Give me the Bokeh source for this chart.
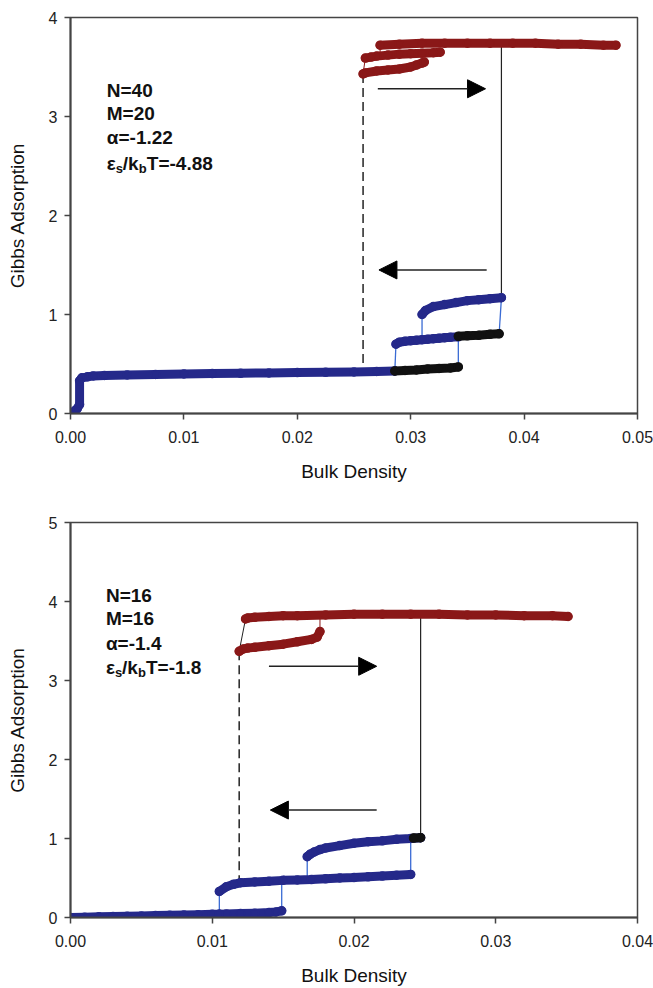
from bokeh.plotting import figure
from bokeh.layouts import column
from bokeh.models import Arrow, NormalHead, Label, FixedTicker, PrintfTickFormatter, Range1d
from bokeh.embed import file_html
from bokeh.resources import INLINE

# ---------------- data: top panel (N=40, M=20) ----------------
top_xticks = [0.0, 0.01, 0.02, 0.03, 0.04, 0.05]
top_yticks = [0, 1, 2, 3, 4]

t_blue_low_x = [0.0, 0.0002, 0.0004, 0.0006, 0.0008, 0.0008, 0.001, 0.0015, 0.002, 0.003, 0.005,
                0.0075, 0.01, 0.0125, 0.015, 0.0175, 0.02, 0.0225, 0.025, 0.027, 0.0286]
t_blue_low_y = [0.0, 0.01, 0.03, 0.05, 0.09, 0.33, 0.36, 0.37, 0.38, 0.385, 0.39,
                0.395, 0.40, 0.403, 0.406, 0.41, 0.413, 0.416, 0.42, 0.425, 0.43]
t_black_low_x = [0.0286, 0.0295, 0.0305, 0.0315, 0.0325, 0.0335, 0.0342]
t_black_low_y = [0.43, 0.435, 0.44, 0.45, 0.455, 0.46, 0.47]
t_blue_mid_x = [0.0287, 0.029, 0.0295, 0.030, 0.0305, 0.031, 0.0315, 0.032, 0.0325, 0.033, 0.0335, 0.0342]
t_blue_mid_y = [0.70, 0.72, 0.73, 0.735, 0.74, 0.745, 0.75, 0.755, 0.76, 0.765, 0.77, 0.775]
t_black_mid_x = [0.0342, 0.035, 0.036, 0.037, 0.0378]
t_black_mid_y = [0.78, 0.785, 0.79, 0.80, 0.805]
t_blue_up_x = [0.0310, 0.0313, 0.032, 0.033, 0.034, 0.035, 0.036, 0.037, 0.038]
t_blue_up_y = [1.00, 1.04, 1.08, 1.10, 1.12, 1.14, 1.15, 1.16, 1.17]
t_red_top_x = [0.0273, 0.029, 0.031, 0.033, 0.035, 0.037, 0.039, 0.041, 0.043, 0.045, 0.047, 0.0481]
t_red_top_y = [3.72, 3.73, 3.74, 3.74, 3.74, 3.74, 3.74, 3.74, 3.73, 3.73, 3.72, 3.72]
t_red_mid_x = [0.0260, 0.0265, 0.027, 0.028, 0.029, 0.030, 0.031, 0.032, 0.0326]
t_red_mid_y = [3.59, 3.60, 3.61, 3.62, 3.63, 3.635, 3.64, 3.645, 3.65]
t_red_low_x = [0.0258, 0.026, 0.027, 0.028, 0.029, 0.030, 0.0305, 0.031, 0.0312]
t_red_low_y = [3.43, 3.44, 3.46, 3.47, 3.48, 3.50, 3.52, 3.54, 3.55]
t_params = ["N=40", "M=20", "\u03b1=-1.22"]
t_eps_value = "T=-4.88"

# ---------------- data: bottom panel (N=16, M=16) ----------------
bot_xticks = [0.0, 0.01, 0.02, 0.03, 0.04]
bot_yticks = [0, 1, 2, 3, 4, 5]

b_blue_low_x = [0.0, 0.001, 0.002, 0.003, 0.004, 0.005, 0.006, 0.007, 0.008, 0.009, 0.010, 0.0105]
b_blue_low_y = [0.0, 0.004, 0.008, 0.012, 0.016, 0.02, 0.024, 0.028, 0.032, 0.036, 0.04, 0.042]
b_blue_low2_x = [0.0105, 0.011, 0.012, 0.013, 0.014, 0.0145, 0.0149]
b_blue_low2_y = [0.042, 0.045, 0.05, 0.055, 0.062, 0.07, 0.085]
b_blue_mid_x = [0.0105, 0.011, 0.0115, 0.012, 0.013, 0.014, 0.015, 0.016, 0.017, 0.018, 0.019,
                0.020, 0.021, 0.022, 0.023, 0.024]
b_blue_mid_y = [0.33, 0.39, 0.42, 0.44, 0.45, 0.46, 0.47, 0.475, 0.48, 0.49, 0.50,
                0.505, 0.515, 0.525, 0.535, 0.545]
b_blue_up_x = [0.0167, 0.0169, 0.0172, 0.0176, 0.018, 0.019, 0.020, 0.021, 0.022, 0.023, 0.024, 0.0247]
b_blue_up_y = [0.77, 0.80, 0.83, 0.86, 0.88, 0.91, 0.94, 0.96, 0.97, 0.99, 1.00, 1.01]
b_black_up_x = [0.0242, 0.0247]
b_black_up_y = [1.005, 1.01]
b_red_top_x = [0.01235, 0.0125, 0.013, 0.014, 0.015, 0.016, 0.018, 0.020, 0.022, 0.024, 0.026,
               0.028, 0.030, 0.032, 0.034, 0.0351]
b_red_top_y = [3.78, 3.79, 3.80, 3.81, 3.82, 3.82, 3.83, 3.84, 3.84, 3.84, 3.84,
               3.83, 3.83, 3.82, 3.82, 3.81]
b_red_low_x = [0.0119, 0.0122, 0.0125, 0.013, 0.014, 0.015, 0.016, 0.017, 0.0174, 0.0176]
b_red_low_y = [3.37, 3.40, 3.41, 3.42, 3.44, 3.46, 3.49, 3.52, 3.55, 3.62]
b_params = ["N=16", "M=16", "\u03b1=-1.4"]
b_eps_value = "T=-1.8"

x_title = "Bulk Density"
y_title = "Gibbs Adsorption"

# ---------------- styles ----------------
BLUE = "#25298a"
BLUE_LINE = "#3a6bd4"
RED = "#8a1818"
BLACK = "#111111"
FONT = "Liberation Sans"


def make_fig(height, xr, yr, xticks, yticks, top_border, bottom_border):
    p = figure(width=653, height=height, x_range=Range1d(*xr), y_range=Range1d(*yr),
               output_backend="svg", toolbar_location=None,
               min_border_left=70, min_border_right=16,
               min_border_top=top_border, min_border_bottom=bottom_border,
               x_axis_label=x_title, y_axis_label=y_title)
    p.xaxis.ticker = FixedTicker(ticks=xticks)
    p.yaxis.ticker = FixedTicker(ticks=yticks)
    p.xaxis.formatter = PrintfTickFormatter(format="%.2f")
    p.yaxis.formatter = PrintfTickFormatter(format="%d")
    for ax in (p.xaxis[0], p.yaxis[0]):
        ax.axis_line_color = "#444444"
        ax.axis_line_width = 2
        ax.major_tick_line_color = "#444444"
        ax.major_tick_line_width = 1.5
        ax.major_tick_in = 0
        ax.major_tick_out = 6
        ax.minor_tick_line_color = None
        ax.major_label_text_font = FONT
        ax.major_label_text_font_size = "16px"
        ax.major_label_text_color = "#222222"
        ax.axis_label_text_font = FONT
        ax.axis_label_text_font_size = "19px"
        ax.axis_label_text_font_style = "normal"
        ax.axis_label_text_color = "#111111"
    p.xaxis.major_label_standoff = 11
    p.yaxis.major_label_standoff = 7
    p.xaxis.axis_label_standoff = 15
    p.yaxis.axis_label_standoff = 18
    p.grid.visible = False
    p.outline_line_color = "#444444"
    p.outline_line_width = 1.5
    p.background_fill_color = "white"
    p.border_fill_color = "white"
    return p


def band(p, xs, ys, color):
    p.line(xs, ys, line_color=color, line_width=9, line_cap="round", line_join="round")
    p.scatter(xs, ys, marker="circle", size=8, fill_color=None, line_color=color, line_width=1.5)


def link(p, x0, y0, x1, y1, color, width=1.3, dash="solid"):
    p.line([x0, x1], [y0, y1], line_color=color, line_width=width, line_dash=dash)


def arrow(p, xs, xe, y):
    p.add_layout(Arrow(end=NormalHead(size=18, fill_color="black", line_color="black"),
                       x_start=xs, y_start=y, x_end=xe, y_end=y,
                       line_color="#222222", line_width=1.5))


def params(p, x, ys, lines, eps_value):
    common = dict(text_font=FONT, text_font_style="bold", text_color="#111111",
                  text_baseline="middle")
    for yy, t in zip(ys[:3], lines):
        p.add_layout(Label(x=x, y=yy, text=t, text_font_size="19px", **common))
    y4 = ys[3]
    p.add_layout(Label(x=x, y=y4, text="\u03b5", text_font_size="19px", **common))
    p.add_layout(Label(x=x, y=y4, x_offset=9, y_offset=-5, text="s", text_font_size="13px", **common))
    p.add_layout(Label(x=x, y=y4, x_offset=16, text="/k", text_font_size="19px", **common))
    p.add_layout(Label(x=x, y=y4, x_offset=32, y_offset=-5, text="b", text_font_size="13px", **common))
    p.add_layout(Label(x=x, y=y4, x_offset=40, text=eps_value, text_font_size="19px", **common))


# ---------------- top panel ----------------
p1 = make_fig(494, (0, 0.05), (0, 4), top_xticks, top_yticks, 17, 81)
link(p1, t_red_low_x[0], t_red_low_y[0], t_red_low_x[0], t_blue_low_y[-2], "#222222", 1.5, "9 5")
link(p1, t_blue_up_x[-1], t_blue_up_y[-1], t_blue_up_x[-1], t_red_top_y[6], "#222222", 1.2)
link(p1, t_blue_low_x[-1], t_blue_low_y[-1], t_blue_mid_x[0], t_blue_mid_y[0], BLUE_LINE)
link(p1, t_black_low_x[-1], t_black_low_y[-1], t_black_mid_x[0], t_black_mid_y[0], BLUE_LINE)
link(p1, t_blue_mid_x[5], t_blue_mid_y[5], t_blue_up_x[0], t_blue_up_y[0], BLUE_LINE)
link(p1, t_black_mid_x[-1], t_black_mid_y[-1], t_blue_up_x[-1], t_blue_up_y[-1], BLUE_LINE)
link(p1, t_red_low_x[0], t_red_low_y[0], t_red_mid_x[0], t_red_mid_y[0], RED, 1.0)
link(p1, t_red_top_x[0], t_red_mid_y[2], t_red_top_x[0], t_red_top_y[0], RED, 1.0)
band(p1, t_blue_low_x, t_blue_low_y, BLUE)
band(p1, t_black_low_x, t_black_low_y, BLACK)
band(p1, t_blue_mid_x, t_blue_mid_y, BLUE)
band(p1, t_black_mid_x, t_black_mid_y, BLACK)
band(p1, t_blue_up_x, t_blue_up_y, BLUE)
band(p1, t_red_low_x, t_red_low_y, RED)
band(p1, t_red_mid_x, t_red_mid_y, RED)
band(p1, t_red_top_x, t_red_top_y, RED)
arrow(p1, 0.0271, 0.0366, 3.28)
arrow(p1, 0.0367, 0.0272, 1.45)
params(p1, 0.0032, [3.26, 3.03, 2.79, 2.53], t_params, t_eps_value)

# ---------------- bottom panel ----------------
p2 = make_fig(494, (0, 0.04), (0, 5), bot_xticks, bot_yticks, 28, 70)
link(p2, b_red_low_x[0], b_red_low_y[0], b_red_low_x[0], b_blue_mid_y[4], "#222222", 1.5, "9 5")
link(p2, b_blue_up_x[-1], b_blue_up_y[-1], b_blue_up_x[-1], b_red_top_y[9], "#222222", 1.2)
link(p2, b_blue_low_x[-1], b_blue_low_y[-1], b_blue_mid_x[0], b_blue_mid_y[0], BLUE_LINE)
link(p2, b_blue_low2_x[-1], b_blue_low2_y[-1], b_blue_low2_x[-1], b_blue_mid_y[6], BLUE_LINE)
link(p2, b_blue_up_x[0], b_blue_mid_y[8], b_blue_up_x[0], b_blue_up_y[0], BLUE_LINE)
link(p2, b_blue_mid_x[-1], b_blue_mid_y[-1], b_blue_mid_x[-1], b_blue_up_y[-2], BLUE_LINE)
link(p2, b_red_low_x[0], b_red_low_y[0], b_red_top_x[0], b_red_top_y[0], "#222222", 1.0)
link(p2, b_red_low_x[-1], b_red_low_y[-1], b_red_low_x[-1], b_red_top_y[5], RED, 1.0)
band(p2, b_blue_low_x, b_blue_low_y, BLUE)
band(p2, b_blue_low2_x, b_blue_low2_y, BLUE)
band(p2, b_blue_mid_x, b_blue_mid_y, BLUE)
band(p2, b_blue_up_x, b_blue_up_y, BLUE)
band(p2, b_black_up_x, b_black_up_y, BLACK)
band(p2, b_red_low_x, b_red_low_y, RED)
band(p2, b_red_top_x, b_red_top_y, RED)
arrow(p2, 0.0140, 0.0216, 3.18)
arrow(p2, 0.0216, 0.0141, 1.36)
params(p2, 0.0025, [4.08, 3.79, 3.47, 3.17], b_params, b_eps_value)

layout = column(p1, p2)
open("out.html", "w").write(file_html(layout, INLINE))
